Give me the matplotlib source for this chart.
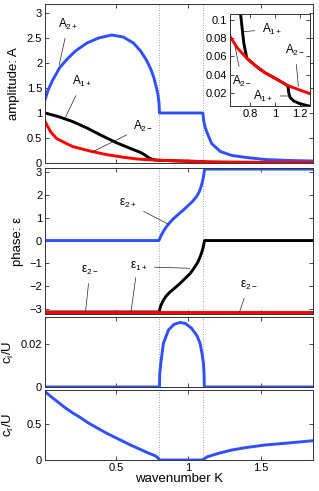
import numpy as np
import matplotlib
matplotlib.use("Agg")
import matplotlib.pyplot as plt

plt.rcParams['font.family'] = ['Liberation Sans', 'DejaVu Sans']
plt.rcParams['mathtext.fontset'] = 'custom'
plt.rcParams['mathtext.rm'] = 'Liberation Sans'
plt.rcParams['mathtext.it'] = 'Liberation Sans'
plt.rcParams['mathtext.default'] = 'regular'

BLUE = '#3050ff'

# critical wavenumbers (edges of the unstable band)
k_crit = [0.80, 1.104]

# amplitude A2+
k_a2p = [0.01, 0.03, 0.06, 0.11, 0.16, 0.22, 0.30, 0.38, 0.47, 0.55, 0.62, 0.67, 0.71, 0.74, 0.76, 0.78,
         0.79, 0.797, 0.80,
         1.10, 1.105, 1.115, 1.127, 1.16, 1.22, 1.30, 1.40, 1.53, 1.70, 1.86]
a2p = [1.26, 1.45, 1.64, 1.90, 2.07, 2.24, 2.40, 2.50, 2.56, 2.52, 2.40, 2.24, 2.06, 1.88, 1.72, 1.50,
       1.36, 1.20, 1.00,
       1.00, 0.85, 0.72, 0.62, 0.39, 0.23, 0.15, 0.11, 0.07, 0.05, 0.04]

# amplitude A1+
k_a1p = [0.01, 0.10, 0.20, 0.30, 0.40, 0.50, 0.60, 0.67, 0.70, 0.726, 0.75, 0.774, 0.85, 0.92, 1.00, 1.10,
         1.105, 1.11, 1.12, 1.15, 1.20, 1.27, 1.50, 1.86]
a1p = [1.00, 0.93, 0.83, 0.70, 0.55, 0.41, 0.29, 0.21, 0.16, 0.105, 0.075, 0.058, 0.049, 0.042, 0.036, 0.028,
       0.026, 0.020, 0.015, 0.011, 0.008, 0.0055, 0.004, 0.003]

# amplitude A2-
k_a2m = [0.01, 0.05, 0.09, 0.15, 0.20, 0.32, 0.43, 0.55, 0.64, 0.70, 0.774, 0.85, 0.92, 1.00, 1.10,
         1.20, 1.28, 1.50, 1.86]
a2m = [0.83, 0.62, 0.49, 0.40, 0.33, 0.24, 0.17, 0.115, 0.082, 0.069, 0.058, 0.049, 0.042, 0.036, 0.028,
       0.023, 0.019, 0.014, 0.010]

# phase eps2+
k_e2p = [0.01, 0.795, 0.80, 0.81, 0.825, 0.845, 0.862, 0.89, 0.93, 0.965, 1.00, 1.03, 1.058, 1.075, 1.088,
         1.098, 1.105, 1.109, 1.112, 1.86]
e2p = [0.0, 0.0, 0.05, 0.20, 0.38, 0.58, 0.72, 0.92, 1.15, 1.34, 1.55, 1.73, 1.95, 2.15, 2.38,
       2.62, 2.85, 3.03, 3.1416, 3.1416]

# phase eps1+
k_e1p = [0.01, 0.80, 0.803, 0.81, 0.825, 0.845, 0.87, 0.90, 0.94, 0.98, 1.012, 1.04, 1.065, 1.085, 1.10,
         1.108, 1.112, 1.86]
e1p = [-3.1416, -3.1416, -3.0, -2.85, -2.65, -2.45, -2.28, -2.12, -1.90, -1.65, -1.45, -1.20, -0.95, -0.65,
       -0.35, -0.10, 0.0, 0.0]

# phase eps2-
k_e2m = [0.01, 1.86]
e2m = [-3.1416, -3.1416]

# growth rate ci/U
k_ci = [0.01, 0.80, 0.802, 0.809, 0.827, 0.862, 0.90, 0.943, 0.98, 1.022, 1.06, 1.081, 1.095, 1.104, 1.108,
        1.11, 1.86]
ci = [0.0, 0.0, 0.006, 0.0108, 0.020, 0.0262, 0.0288, 0.0297, 0.0292, 0.027, 0.0235, 0.020, 0.015, 0.0108,
      0.006, 0.0, 0.0]

# phase speed cr/U
k_cr = [0.01, 0.05, 0.10, 0.15, 0.205, 0.25, 0.30, 0.36, 0.436, 0.50, 0.55, 0.60, 0.666, 0.72, 0.77, 0.79, 0.80,
        1.105, 1.11, 1.13, 1.17, 1.22, 1.30, 1.40, 1.53, 1.70, 1.86]
cr = [0.957, 0.89, 0.81, 0.73, 0.654, 0.60, 0.53, 0.46, 0.374, 0.31, 0.26, 0.21, 0.15, 0.10, 0.06, 0.03, 0.0,
      0.0, 0.02, 0.045, 0.07, 0.10, 0.14, 0.175, 0.21, 0.24, 0.27]


def style(ax):
    ax.tick_params(direction='in', top=True, right=True, length=3, width=0.5, labelsize=8, pad=2)
    for s in ax.spines.values():
        s.set_linewidth(0.7)
        s.set_color('#333333')


def vlines(ax):
    for k in k_crit:
        ax.axvline(k, color='#888888', ls=(0, (1, 2)), lw=0.6, zorder=1)


def note(ax, txt, xytext, xy, fs=8.5):
    ax.annotate(txt, xy=xy, xytext=xytext, fontsize=fs, ha='center', va='center',
                arrowprops=dict(arrowstyle='-', lw=0.5, color='#222222', shrinkA=3, shrinkB=0))


fig = plt.figure(figsize=(3.19, 4.91), dpi=100)
L, W = 45 / 319, 268 / 319
ax1 = fig.add_axes([L, 1 - 163 / 491, W, 159 / 491])
ax2 = fig.add_axes([L, 1 - 314 / 491, W, 146 / 491])
ax3 = fig.add_axes([L, 1 - 387 / 491, W, 70 / 491])
ax4 = fig.add_axes([L, 1 - 460 / 491, W, 70 / 491])
lw = 2.1

# amplitudes
vlines(ax1)
ax1.plot(k_a2p, a2p, color=BLUE, lw=lw)
ax1.plot(k_a1p, a1p, color='black', lw=lw)
ax1.plot(k_a2m, a2m, color='red', lw=lw)
ax1.set_ylim(0, 3.18)
ax1.set_yticks([0, 0.5, 1, 1.5, 2, 2.5, 3])
ax1.set_yticklabels(['0', '0.5', '1', '1.5', '2', '2.5', '3'])
ax1.set_ylabel('amplitude: A', fontsize=9.5)
ax1.yaxis.set_label_coords(-0.095, 0.5)
note(ax1, '$A_{2+}$', (0.17, 2.78), (0.108, 1.96))
note(ax1, '$A_{1+}$', (0.27, 1.63), (0.147, 0.89))
note(ax1, '$A_{2-}$', (0.69, 0.73), (0.343, 0.23))

# inset
axi = fig.add_axes([230 / 319, 1 - 106 / 491, 80 / 319, 92 / 491])
axi.plot(k_a2p, a2p, color=BLUE, lw=lw)
axi.plot(k_a1p, a1p, color='black', lw=lw)
axi.plot(k_a2m, a2m, color='red', lw=lw)
axi.set_xlim(0.64, 1.28)
axi.set_ylim(0.0055, 0.1065)
axi.set_xticks([0.8, 1, 1.2])
axi.set_xticklabels(['0.8', '1', '1.2'])
axi.set_yticks([0.02, 0.04, 0.06, 0.08, 0.1])
axi.set_yticklabels(['0.02', '0.04', '0.06', '0.08', '0.1'])
style(axi)
note(axi, '$A_{1+}$', (0.975, 0.090), (0.745, 0.087))
note(axi, '$A_{2-}$', (1.16, 0.067), (1.187, 0.027))
note(axi, '$A_{2-}$', (0.735, 0.033), (0.68, 0.071))
note(axi, '$A_{1+}$', (0.905, 0.0165), (1.12, 0.0165))

# phases
vlines(ax2)
ax2.plot(k_e2p, e2p, color=BLUE, lw=lw)
ax2.plot(k_e1p, e1p, color='black', lw=lw)
ax2.plot(k_e2m, e2m, color='red', lw=lw)
ax2.set_ylim(-3.23, 3.19)
ax2.set_yticks([-3, -2, -1, 0, 1, 2, 3])
ax2.set_yticklabels(['\u22123', '\u22122', '\u22121', '0', '1', '2', '3'])
ax2.set_ylabel('phase: \u03b5', fontsize=9.5)
ax2.yaxis.set_label_coords(-0.08, 0.5)
note(ax2, '\u03b5$_{2+}$', (0.585, 1.63), (0.862, 0.72))
note(ax2, '\u03b5$_{1+}$', (0.655, -1.15), (1.012, -1.22))
note(ax2, '', (0.64, -1.45), (0.604, -3.14))
note(ax2, '\u03b5$_{2-}$', (0.32, -1.3), (0.29, -3.14))
note(ax2, '\u03b5$_{2-}$', (1.415, -1.96), (1.353, -3.14))

# growth rate
vlines(ax3)
ax3.plot(k_ci, ci, color=BLUE, lw=lw)
ax3.set_ylim(0, 0.0322)
ax3.set_yticks([0, 0.02])
ax3.set_yticklabels(['0', '0.02'])
ax3.set_ylabel('$c_i$/U', fontsize=9.5)
ax3.yaxis.set_label_coords(-0.11, 0.5)

# phase speed
vlines(ax4)
ax4.plot(k_cr, cr, color=BLUE, lw=lw)
ax4.set_ylim(0, 0.98)
ax4.set_yticks([0, 0.5])
ax4.set_yticklabels(['0', '0.5'])
ax4.set_ylabel('$c_r$/U', fontsize=9.5)
ax4.yaxis.set_label_coords(-0.11, 0.5)
ax4.set_xlabel('wavenumber K', fontsize=9.5, labelpad=0)

for ax in [ax1, ax2, ax3, ax4]:
    ax.set_xlim(0.01, 1.86)
    ax.set_xticks([0.5, 1, 1.5])
    style(ax)
for ax in [ax1, ax2, ax3]:
    ax.set_xticklabels([])
ax4.set_xticklabels(['0.5', '1', '1.5'])

fig.savefig('out.png', dpi=100)
